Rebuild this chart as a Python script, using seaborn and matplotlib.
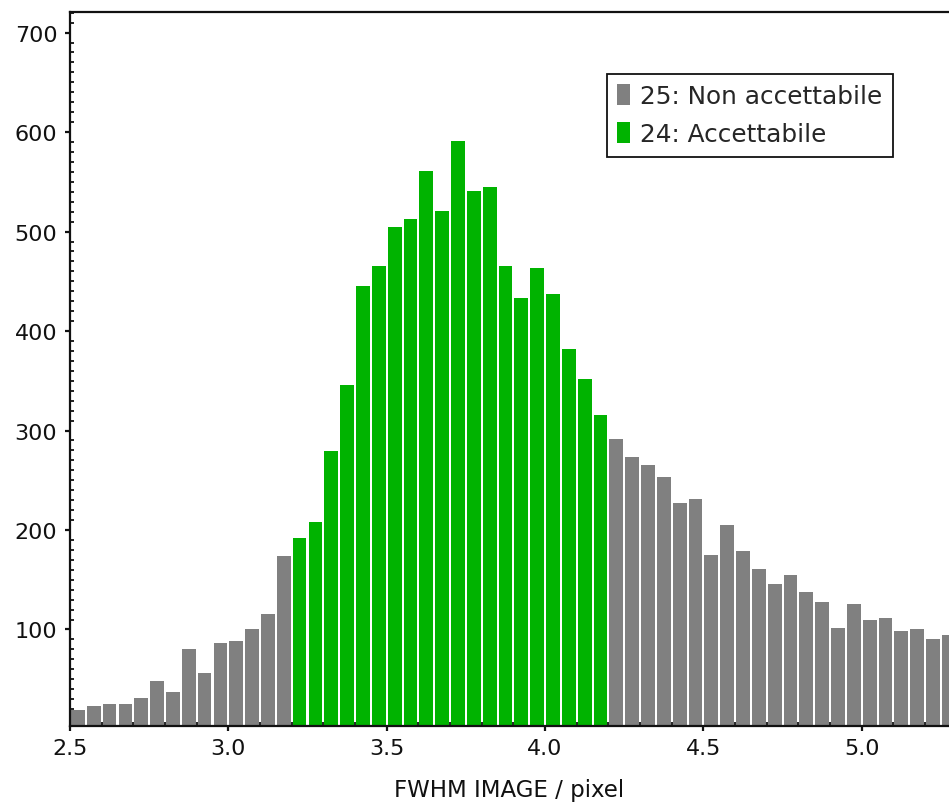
import numpy as np
import pandas as pd
import matplotlib
matplotlib.use("Agg")
import matplotlib.pyplot as plt
from matplotlib.patches import Rectangle
from matplotlib.ticker import MultipleLocator, FormatStrFormatter
import seaborn as sns

# Histogram bin left edges (width 0.05) and counts
bin_width = 0.05
bin_start = 2.5
counts = [19, 23, 25, 25, 31, 48, 37, 80, 56, 86, 88, 100, 116, 174,
          192, 208, 279, 346, 445, 465, 505, 513, 561, 521, 591, 541, 545, 465,
          433, 463, 437, 382, 352, 316,
          291, 273, 265, 253, 227, 231, 175, 205, 179, 161, 146, 155, 138, 128,
          102, 126, 110, 112, 98, 100, 90, 94]
accept_lo, accept_hi = 3.2, 4.2
labels = ["25: Non accettabile", "24: Accettabile"]
colors = ["#808080", "#00b300"]

n = len(counts)
bin_end = round(bin_start + bin_width * n, 3)
centers = bin_start + bin_width * (np.arange(n) + 0.5)
group = np.where((centers > accept_lo) & (centers < accept_hi), labels[1], labels[0])
df = pd.DataFrame({"fwhm": centers, "count": counts, "group": group})

sns.set_style("white")
plt.rcParams["font.family"] = ["DejaVu Sans"]

fig = plt.figure(figsize=(9.49, 8.04), dpi=100)
ax = fig.add_axes([70 / 949, 77.3 / 804, 879 / 949, 714 / 804])

for lab, col in zip(labels, colors):
    sub = df[df["group"] == lab]
    sns.histplot(data=sub, x="fwhm", weights="count", bins=n,
                 binrange=(bin_start, bin_end), ax=ax,
                 color=col, alpha=1, edgecolor="none", linewidth=0, shrink=0.87)

ax.set_xlim(2.5, 2.5 + 879 / 316.7)
ax.set_ylim(3.3, 721)
ax.xaxis.set_major_locator(MultipleLocator(0.5))
ax.xaxis.set_minor_locator(MultipleLocator(0.1))
ax.set_yticks([100, 200, 300, 400, 500, 600, 700])
ax.yaxis.set_minor_locator(MultipleLocator(10))
ax.xaxis.set_major_formatter(FormatStrFormatter("%.1f"))

ax.tick_params(which="major", direction="out", length=3.6, width=1.6, pad=5.5,
               labelsize=16, colors="#111111", bottom=True, left=True)
ax.tick_params(which="minor", direction="in", length=3, width=1.3,
               colors="#111111", bottom=True, left=True)

for side in ["left", "bottom", "top"]:
    ax.spines[side].set_visible(True)
    ax.spines[side].set_linewidth(1.6)
    ax.spines[side].set_color("#111111")
ax.spines["right"].set_visible(False)

ax.set_xlabel("FWHM IMAGE / pixel", fontsize=16.5, color="#111111", labelpad=14)
ax.set_ylabel("")

handles = [Rectangle((0, 0), 1, 1, facecolor=c, edgecolor="none") for c in colors]
leg = ax.legend(handles, labels, loc="upper left",
                bbox_to_anchor=((606.7 - 70) / 879, (726.7 - 75) / 714),
                fontsize=17.8, frameon=True, fancybox=False, framealpha=1,
                handlelength=0.52, handleheight=0.92, handletextpad=0.42,
                borderpad=0.42, labelspacing=0.56, borderaxespad=0)
leg.get_frame().set_edgecolor("#111111")
leg.get_frame().set_linewidth(1.3)

fig.savefig("out.png", dpi=100, facecolor="white")
